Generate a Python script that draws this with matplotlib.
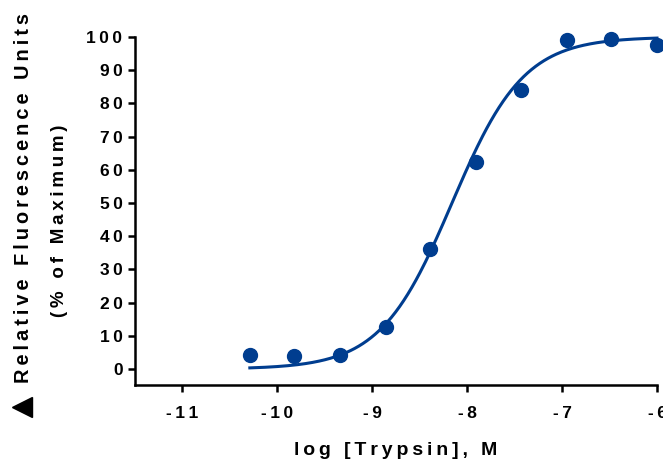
import numpy as np
import matplotlib
matplotlib.use("Agg")
import matplotlib.pyplot as plt

# data
log_trypsin = [-10.29, -9.82, -9.34, -8.86, -8.39, -7.91, -7.43, -6.95, -6.48, -6.0]
rfu_pct = [4.2, 3.9, 4.2, 12.7, 36.3, 62.5, 84.0, 99.0, 99.4, 97.6]

# four-parameter logistic fit (bottom, top, logEC50, hill)
fit_bottom = 0.0
fit_top = 100.0
fit_logec50 = -8.16
fit_hill = 1.15

x_ticks = [-11, -10, -9, -8, -7, -6]
y_ticks = list(range(0, 101, 10))


def spaced(s):
    # the reference uses wide letter tracking, imitate it with thin spaces
    return '\u2009'.join(s)


blue = '#003d8f'
plt.rcParams['font.family'] = ['Liberation Sans', 'DejaVu Sans']
plt.rcParams['font.weight'] = 'bold'

fig = plt.figure(figsize=(6.63, 4.66), dpi=100)
ax = fig.add_axes([135/663, (466-385)/466, (657-135)/663, (385-37)/466])

xc = np.linspace(min(log_trypsin), max(log_trypsin), 300)
yc = fit_bottom + (fit_top - fit_bottom)/(1 + 10**((fit_logec50 - xc)*fit_hill))
ax.plot(xc, yc, color=blue, lw=2.2, clip_on=False)
ax.plot(log_trypsin, rfu_pct, 'o', color=blue, ms=10, clip_on=False)

ax.set_xlim(-11.5, -6)
ax.set_ylim(-4.8, 100)
ax.set_xticks(x_ticks)
ax.set_yticks(y_ticks)
ax.set_xticklabels([spaced(str(t)) for t in x_ticks], fontsize=12.5, fontweight='bold')
ax.set_yticklabels([spaced(str(t)) for t in y_ticks], fontsize=12.5, fontweight='bold')
ax.spines['top'].set_visible(False)
ax.spines['right'].set_visible(False)
for s in ['left', 'bottom']:
    ax.spines[s].set_linewidth(1.8)
ax.spines['left'].set_bounds(-4.8, 100)
ax.tick_params(axis='x', length=5, width=1.8, pad=10)
ax.tick_params(axis='y', length=5, width=1.8, pad=4)

ax.set_xlabel(spaced('log [Trypsin], M'), fontsize=14, fontweight='bold', labelpad=15)

fig.text(24/663, 1 - 198/466, spaced('Relative Fluorescence Units'), rotation=90,
         ha='center', va='center', fontsize=14.4, fontweight='bold')
fig.text(60/663, 1 - 221/466, spaced('(% of Maximum)'), rotation=90,
         ha='center', va='center', fontsize=13.5, fontweight='bold')
ax.plot([22/663], [1 - 407/466], marker='<', color='black', ms=14,
        transform=fig.transFigure, clip_on=False)

fig.savefig('out.png', dpi=100)
